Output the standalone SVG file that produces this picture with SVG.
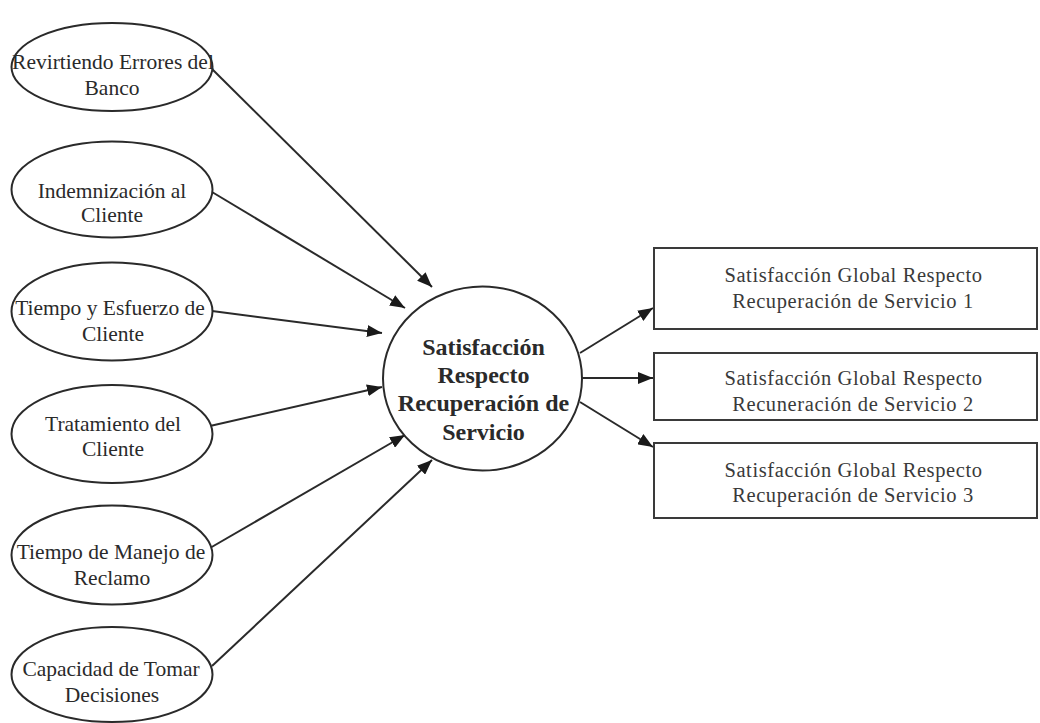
<svg xmlns="http://www.w3.org/2000/svg" width="1040" height="723" viewBox="0 0 1040 723">
<style>
.bg{fill:#ffffff}
.ell{fill:#ffffff;stroke:#2a2a2a;stroke-width:2}
.box{fill:#ffffff;stroke:#3a3a3a;stroke-width:2}
.t{font-family:"Liberation Serif","Times New Roman",serif;font-size:21.5px;fill:#2a2a2a;text-anchor:middle}
.tb{font-family:"Liberation Serif","Times New Roman",serif;font-size:24px;font-weight:bold;fill:#2a2a2a;text-anchor:middle}
.tr{font-family:"Liberation Serif","Times New Roman",serif;font-size:20.5px;letter-spacing:0.6px;fill:#3a3a3a;text-anchor:middle}
.c{fill:none;stroke:#2a2a2a;stroke-width:2;marker-end:url(#ah)}
</style>
<defs>
<marker id="ah" markerUnits="userSpaceOnUse" markerWidth="16" markerHeight="12" refX="15" refY="6" orient="auto">
<path d="M0,0 L15,6 L0,12 z" fill="#1a1a1a"/>
</marker>
</defs>
<rect class="bg" x="0" y="0" width="1040" height="723"/>

<g id="connectors">
<path class="c" d="M210,67 L432,287"/>
<path class="c" d="M212,192 L405,308"/>
<path class="c" d="M212,311 L382,333"/>
<path class="c" d="M210,426 L382,387"/>
<path class="c" d="M210,548 L405,435"/>
<path class="c" d="M212,666 L432,460"/>
<path class="c" d="M580,353 L653,308"/>
<path class="c" d="M582,378 L653,378"/>
<path class="c" d="M580,402 L653,447"/>
</g>

<g id="n1">
<ellipse class="ell" cx="112" cy="67" rx="100.5" ry="44"/>
<text class="t" x="113" y="69">Revirtiendo Errores del</text>
<text class="t" x="112" y="95">Banco</text>
</g>
<g id="n2">
<ellipse class="ell" cx="112" cy="189.5" rx="100.5" ry="48"/>
<text class="t" x="112" y="198">Indemnización al</text>
<text class="t" x="112" y="222">Cliente</text>
</g>
<g id="n3">
<ellipse class="ell" cx="112" cy="311.5" rx="100.5" ry="49"/>
<text class="t" x="110" y="315">Tiempo y Esfuerzo de</text>
<text class="t" x="113" y="341">Cliente</text>
</g>
<g id="n4">
<ellipse class="ell" cx="112" cy="434" rx="100.5" ry="49"/>
<text class="t" x="113" y="431">Tratamiento del</text>
<text class="t" x="113" y="456">Cliente</text>
</g>
<g id="n5">
<ellipse class="ell" cx="112" cy="555" rx="100.5" ry="49.5"/>
<text class="t" x="111" y="559">Tiempo de Manejo de</text>
<text class="t" x="112" y="585">Reclamo</text>
</g>
<g id="n6">
<ellipse class="ell" cx="112" cy="674.5" rx="100.5" ry="47.5"/>
<text class="t" x="111" y="676">Capacidad de Tomar</text>
<text class="t" x="112" y="702">Decisiones</text>
</g>

<g id="center">
<ellipse class="ell" cx="482.5" cy="378.5" rx="99.5" ry="92"/>
<text class="tb" x="483.5" y="355">Satisfacción</text>
<text class="tb" x="483.5" y="383">Respecto</text>
<text class="tb" x="483.5" y="411">Recuperación de</text>
<text class="tb" x="483.5" y="440">Servicio</text>
</g>

<g id="r1">
<rect class="box" x="654" y="248" width="383" height="81"/>
<text class="tr" x="853.5" y="282">Satisfacción Global Respecto</text>
<text class="tr" x="853" y="308">Recuperación de Servicio 1</text>
</g>
<g id="r2">
<rect class="box" x="654" y="353" width="383" height="67"/>
<text class="tr" x="853.5" y="385">Satisfacción Global Respecto</text>
<text class="tr" x="853" y="411">Recuneración de Servicio 2</text>
</g>
<g id="r3">
<rect class="box" x="654" y="443" width="383" height="75"/>
<text class="tr" x="853.5" y="477">Satisfacción Global Respecto</text>
<text class="tr" x="853" y="502">Recuperación de Servicio 3</text>
</g>
</svg>
